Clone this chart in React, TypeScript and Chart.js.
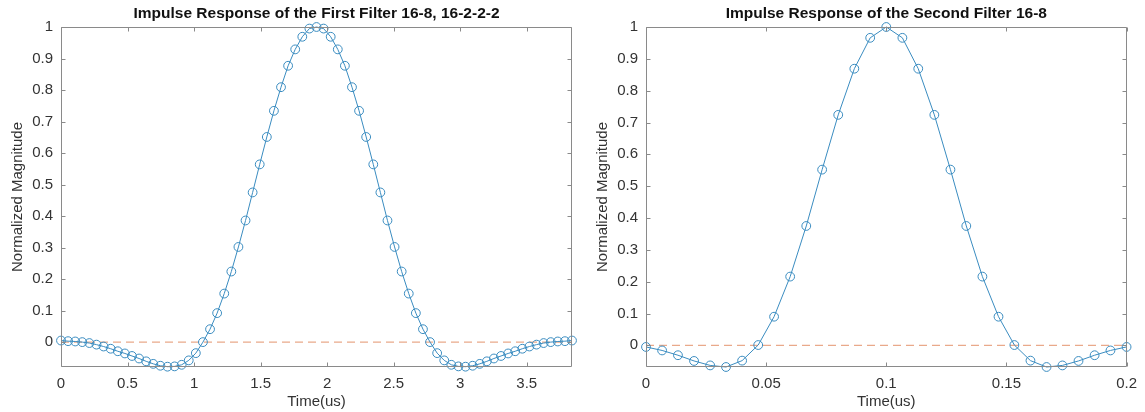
import { useEffect, useRef } from "react";
import { Chart, registerables } from "chart.js";

Chart.register(...registerables);

const FONT = '"Liberation Sans", Arial, Helvetica, sans-serif';

const LEFT_TITLE = "Impulse Response of the First Filter 16-8, 16-2-2-2";
const RIGHT_TITLE = "Impulse Response of the Second Filter 16-8";
const X_LABEL = "Time(us)";
const Y_LABEL = "Normalized Magnitude";

const LEFT_TIME = [
  0, 0.0533, 0.1067, 0.16, 0.2133, 0.2667, 0.32, 0.3733, 0.4267, 0.48,
  0.5333, 0.5867, 0.64, 0.6933, 0.7467, 0.8, 0.8533, 0.9067, 0.96, 1.0133,
  1.0667, 1.12, 1.1733, 1.2267, 1.28, 1.3333, 1.3867, 1.44, 1.4933, 1.5467,
  1.6, 1.6533, 1.7067, 1.76, 1.8133, 1.8667, 1.92, 1.9733, 2.0267, 2.08,
  2.1333, 2.1867, 2.24, 2.2933, 2.3467, 2.4, 2.4533, 2.5067, 2.56, 2.6133,
  2.6667, 2.72, 2.7733, 2.8267, 2.88, 2.9333, 2.9867, 3.04, 3.0933, 3.1467,
  3.2, 3.2533, 3.3067, 3.36, 3.4133, 3.4667, 3.52, 3.5733, 3.6267, 3.68,
  3.7333, 3.7867, 3.84,
];

const LEFT_VALUES = [
  0.005, 0.003, 0.002, 0.0, -0.003, -0.008, -0.014, -0.021, -0.029, -0.036,
  -0.044, -0.052, -0.061, -0.069, -0.075, -0.078, -0.077, -0.072, -0.058, -0.035,
  0.0, 0.041, 0.092, 0.154, 0.224, 0.302, 0.386, 0.475, 0.564, 0.651,
  0.734, 0.809, 0.877, 0.929, 0.969, 0.995, 1.0, 0.995, 0.969, 0.929,
  0.877, 0.809, 0.734, 0.651, 0.564, 0.475, 0.386, 0.302, 0.224, 0.154,
  0.092, 0.041, 0.0, -0.035, -0.058, -0.072, -0.077, -0.078, -0.075, -0.069,
  -0.061, -0.052, -0.044, -0.036, -0.029, -0.021, -0.014, -0.008, -0.003, 0.0,
  0.002, 0.003, 0.005,
];

const RIGHT_TIME = [
  0, 0.0067, 0.0133, 0.02, 0.0267, 0.0333, 0.04, 0.0467, 0.0533, 0.06,
  0.0667, 0.0733, 0.08, 0.0867, 0.0933, 0.1, 0.1067, 0.1133, 0.12, 0.1267,
  0.1333, 0.14, 0.1467, 0.1533, 0.16, 0.1667, 0.1733, 0.18, 0.1867, 0.1933,
  0.2,
];

const RIGHT_VALUES = [
  -0.005, -0.016, -0.031, -0.049, -0.063, -0.068, -0.048, 0.001, 0.09, 0.216,
  0.375, 0.552, 0.724, 0.869, 0.966, 1.0, 0.966, 0.869, 0.724, 0.552,
  0.375, 0.216, 0.09, 0.001, -0.048, -0.068, -0.063, -0.049, -0.031, -0.016,
  -0.005,
];

const LEFT_X_TICKS = [0, 0.5, 1, 1.5, 2, 2.5, 3, 3.5];
const RIGHT_X_TICKS = [0, 0.05, 0.1, 0.15, 0.2];
const Y_TICKS = [0, 0.1, 0.2, 0.3, 0.4, 0.5, 0.6, 0.7, 0.8, 0.9, 1];

const LINE_COLOR = "#3a8cc0";
const ZERO_COLOR = "#e9a98a";
const AXIS_COLOR = "#8a8a8a";
const TEXT_COLOR = "#333333";

const fmt = (v: number) => String(Math.round(v * 1000) / 1000);

const frameTicks = {
  id: "frameTicks",
  afterDraw(chart: any) {
    const { ctx, chartArea: a, scales } = chart;
    const xs = scales.x;
    const ys = scales.y;
    const L = Math.round(a.left) + 0.5;
    const R = Math.round(a.right) - 0.5;
    const T = Math.round(a.top) + 0.5;
    const B = Math.round(a.bottom) - 0.5;
    const len = 4;
    ctx.save();
    ctx.strokeStyle = AXIS_COLOR;
    ctx.lineWidth = 1;
    ctx.beginPath();
    ctx.rect(L, T, R - L, B - T);
    xs.ticks.forEach((t: any) => {
      const px = Math.round(xs.getPixelForValue(t.value)) + 0.5;
      ctx.moveTo(px, B);
      ctx.lineTo(px, B - len);
      ctx.moveTo(px, T);
      ctx.lineTo(px, T + len);
    });
    ys.ticks.forEach((t: any) => {
      const py = Math.round(ys.getPixelForValue(t.value)) + 0.5;
      ctx.moveTo(L, py);
      ctx.lineTo(L + len, py);
      ctx.moveTo(R, py);
      ctx.lineTo(R - len, py);
    });
    ctx.stroke();
    ctx.restore();
  },
};

function buildConfig(
  title: string,
  time: number[],
  values: number[],
  xTicks: number[],
  yMin: number,
  padRight: number
): any {
  const xMax = time[time.length - 1];
  const font = { family: FONT, size: 15 };
  return {
    type: "line",
    data: {
      datasets: [
        {
          data: time.map((t, i) => ({ x: t, y: values[i] })),
          borderColor: LINE_COLOR,
          borderWidth: 1,
          pointRadius: 4.4,
          pointBorderWidth: 1,
          pointBorderColor: LINE_COLOR,
          pointBackgroundColor: "rgba(0,0,0,0)",
          pointStyle: "circle",
          tension: 0,
          fill: false,
          clip: false,
        },
        {
          data: [
            { x: time[0], y: 0 },
            { x: xMax, y: 0 },
          ],
          borderColor: ZERO_COLOR,
          borderWidth: 1.3,
          borderDash: [8, 5],
          pointRadius: 0,
          fill: false,
        },
      ],
    },
    options: {
      responsive: false,
      animation: false,
      events: [],
      layout: { padding: { left: 0, right: padRight, top: 0, bottom: 0 } },
      plugins: {
        legend: { display: false },
        tooltip: { enabled: false },
        title: {
          display: true,
          text: title,
          fullSize: false,
          color: "#111",
          font: { family: FONT, size: 15.5, weight: "bold" },
          padding: { top: 4, bottom: 4.4 },
        },
      },
      scales: {
        x: {
          type: "linear",
          min: 0,
          max: xMax,
          afterBuildTicks: (s: any) => {
            s.ticks = xTicks.map((v) => ({ value: v }));
          },
          afterFit: (s: any) => {
            s.height = 45;
          },
          grid: { display: false, drawTicks: false },
          border: { display: false },
          ticks: {
            padding: 8,
            color: TEXT_COLOR,
            font,
            maxRotation: 0,
            autoSkip: false,
            callback: (v: number) => fmt(v),
          },
          title: {
            display: true,
            text: X_LABEL,
            color: TEXT_COLOR,
            font,
            padding: { top: 0, bottom: 1 },
          },
        },
        y: {
          type: "linear",
          min: yMin,
          max: 1,
          afterBuildTicks: (s: any) => {
            s.ticks = Y_TICKS.map((v) => ({ value: v }));
          },
          afterFit: (s: any) => {
            s.width = 61;
          },
          grid: { display: false, drawTicks: false },
          border: { display: false },
          ticks: {
            padding: 8,
            color: TEXT_COLOR,
            font,
            autoSkip: false,
            callback: (v: number) => fmt(v),
          },
          title: {
            display: true,
            text: Y_LABEL,
            color: TEXT_COLOR,
            font,
            padding: { top: 9, bottom: 0 },
          },
        },
      },
    },
    plugins: [frameTicks],
  };
}

export default function App() {
  const leftRef = useRef<HTMLCanvasElement | null>(null);
  const rightRef = useRef<HTMLCanvasElement | null>(null);

  useEffect(() => {
    const charts: Chart[] = [];
    if (leftRef.current) {
      charts.push(
        new Chart(
          leftRef.current,
          buildConfig(LEFT_TITLE, LEFT_TIME, LEFT_VALUES, LEFT_X_TICKS, -0.079, 13)
        )
      );
    }
    if (rightRef.current) {
      charts.push(
        new Chart(
          rightRef.current,
          buildConfig(RIGHT_TITLE, RIGHT_TIME, RIGHT_VALUES, RIGHT_X_TICKS, -0.068, 17)
        )
      );
    }
    return () => charts.forEach((c) => c.destroy());
  }, []);

  return (
    <div
      style={{
        position: "absolute",
        left: 0,
        top: 0,
        width: 1145,
        height: 412,
        background: "#fff",
        display: "flex",
      }}
    >
      <canvas ref={leftRef} width={585} height={412} style={{ width: 585, height: 412, display: "block" }} />
      <canvas ref={rightRef} width={560} height={412} style={{ width: 560, height: 412, display: "block" }} />
    </div>
  );
}
